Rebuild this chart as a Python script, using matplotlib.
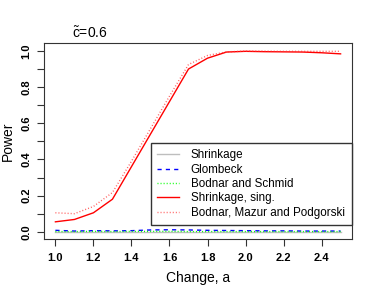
"""Power of the change-point tests for c~=0.6."""

import matplotlib

matplotlib.use("Agg")
import matplotlib.pyplot as plt
from matplotlib.ticker import MultipleLocator

plt.rcParams["font.family"] = ["Liberation Sans", "DejaVu Sans"]
plt.rcParams["mathtext.fontset"] = "custom"
plt.rcParams["mathtext.rm"] = "Liberation Sans"

change = [1.0, 1.1, 1.2, 1.3, 1.4, 1.5, 1.6, 1.7, 1.8, 1.9, 2.0, 2.1, 2.2, 2.3, 2.4, 2.5]
shrinkage = [0.0, 0.0, 0.0, 0.0, 0.0, 0.0, 0.0, 0.0, 0.0, 0.0, 0.0, 0.0, 0.0, 0.0, 0.0, 0.0]
glombeck = [0.008, 0.004, 0.006, 0.005, 0.006, 0.010, 0.011, 0.010,
            0.008, 0.007, 0.006, 0.005, 0.005, 0.004, 0.004, 0.004]
bodnar_schmid = [0.001, 0.001, 0.002, 0.001, 0.002, 0.002, 0.002, 0.001,
                 0.001, 0.001, 0.001, 0.001, 0.001, 0.001, 0.001, 0.001]
shrinkage_sing = [0.055, 0.068, 0.105, 0.18, 0.36, 0.54, 0.72, 0.90,
                  0.96, 0.994, 0.998, 0.996, 0.995, 0.994, 0.99, 0.984]
bmp = [0.105, 0.10, 0.14, 0.217, 0.39, 0.57, 0.75, 0.925,
       0.975, 0.995, 0.999, 0.999, 0.998, 0.998, 0.998, 0.998]


def main() -> None:
    figure = plt.figure(figsize=(3.74, 2.94), dpi=100)
    axis = figure.add_axes([44 / 374, 55 / 294, 308 / 374, 196 / 294])

    dots = (0.7, 1.5)
    axis.plot(change, shrinkage, color="#BEBEBE", linewidth=1.0, label="Shrinkage")
    axis.plot(change, glombeck, color="blue", linewidth=1.0, dashes=(3, 3), label="Glombeck")
    axis.plot(change, bodnar_schmid, color="#00FF00", linewidth=1.0, dashes=dots,
              label="Bodnar and Schmid")
    axis.plot(change, shrinkage_sing, color="red", linewidth=1.0, label="Shrinkage, sing.")
    axis.plot(change, bmp, color="#FF3030", linewidth=1.0, dashes=dots, alpha=0.8,
              label="Bodnar, Mazur and Podgorski")

    axis.set_xlim(0.94, 2.56)
    axis.set_ylim(-0.04, 1.044)
    axis.yaxis.set_minor_locator(MultipleLocator(0.1))
    axis.tick_params(which="both", direction="out", length=5, width=0.8, color="#333333")
    axis.tick_params(axis="x", labelsize=8, pad=5)
    axis.tick_params(axis="y", labelsize=8, pad=4)
    axis.set_xticks([1.0, 1.2, 1.4, 1.6, 1.8, 2.0, 2.2, 2.4])
    axis.set_xticklabels([f"{v:.1f}" for v in axis.get_xticks()], fontweight="bold")
    axis.set_yticks([0.0, 0.2, 0.4, 0.6, 0.8, 1.0])
    axis.set_yticklabels([f"{v:.1f}" for v in axis.get_yticks()], fontweight="bold",
                         rotation=90, va="center")
    for spine in axis.spines.values():
        spine.set_color("#333333")
        spine.set_linewidth(0.8)

    axis.set_xlabel("Change, a", fontsize=10, labelpad=6)
    figure.text(8 / 374, 1 - 141 / 294, "Power", rotation=90, fontsize=10,
                ha="center", va="center")
    axis.text(0.09, 1.012, r"$\tilde{\mathrm{c}}$=0.6", transform=axis.transAxes,
              fontsize=10, ha="left", va="bottom")

    axis.legend(loc="lower left", bbox_to_anchor=(0.346, 0.071, 0.654, 0.425),
                mode="expand", fontsize=8.4, frameon=True, fancybox=False,
                edgecolor="#333333", framealpha=1, handlelength=1.9,
                handletextpad=1.0, labelspacing=0.2, borderaxespad=0,
                borderpad=0.55)

    figure.savefig("out.png", dpi=100)


if __name__ == "__main__":
    main()
